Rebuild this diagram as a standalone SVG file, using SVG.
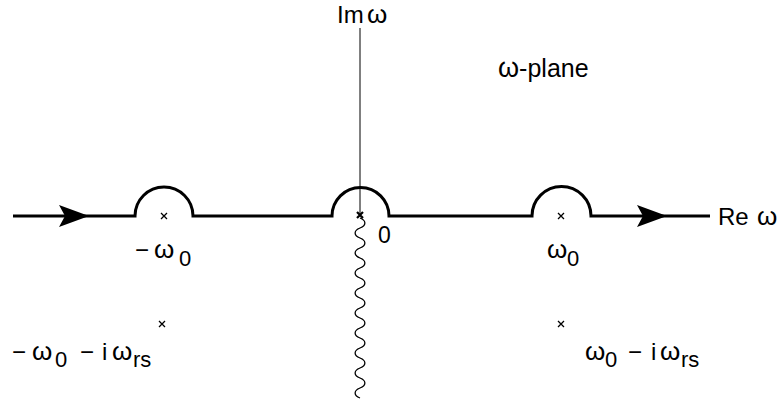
<svg xmlns="http://www.w3.org/2000/svg" width="777" height="403" viewBox="0 0 777 403">
<style>
text{font-family:"Liberation Sans",Arial,sans-serif;font-size:24px;fill:#000}
.w{font-size:26px}
.sub{font-size:22px}
.c{stroke:#000;fill:none;stroke-width:3}
.x{stroke:#000;stroke-width:1.3;fill:none}
.ah{fill:#000;stroke:none}
</style>
<rect width="777" height="403" fill="#fff"/>
<g id="connectors">
<path id="contour" class="c" d="M13,216 H135 A29,29 0 0 1 193,216 H332 A28.5,28.5 0 0 1 389,216 H532 A29.5,29.5 0 0 1 591,216 H710"/>
<path class="ah" d="M89,216 L59,205 L65,216 L59,227 Z"/>
<path class="ah" d="M667,216 L637,205 L643,216 L637,227 Z"/>
<line id="imaxis" x1="360" y1="28" x2="360" y2="214" stroke="#000" stroke-width="1"/>
<path id="cut" fill="none" stroke="#000" stroke-width="1.3" d="M360,218 c6.5,2.5 6.5,7.5 0,10 s-6.5,7.5 0,10 s6.5,7.5 0,10 s-6.5,7.5 0,10 s6.5,7.5 0,10 s-6.5,7.5 0,10 s6.5,7.5 0,10 s-6.5,7.5 0,10 s6.5,7.5 0,10 s-6.5,7.5 0,10 s6.5,7.5 0,10 s-6.5,7.5 0,10 s6.5,7.5 0,10 s-6.5,7.5 0,10 s6.5,7.5 0,10 s-6.5,7.5 0,10 s6.5,7.5 0,10 s-6.5,7.5 0,10"/>
</g>
<g id="pole-origin"><path d="M357,212 L363,218 M363,212 L357,218" stroke="#000" stroke-width="2.2"/></g>
<g id="pole-neg"><path class="x" d="M161,213 L167,219 M167,213 L161,219"/></g>
<g id="pole-pos"><path class="x" d="M558,213 L564,219 M564,213 L558,219"/></g>
<g id="pole-neg-low"><path class="x" d="M159,321 L165,327 M165,321 L159,327"/></g>
<g id="pole-pos-low"><path class="x" d="M558,321 L564,327 M564,321 L558,327"/></g>
<g id="labels">
<text x="337" y="23">Im<tspan x="367" class="w">ω</tspan></text>
<text x="498" y="77" style="font-size:25px"><tspan style="font-size:27px">ω</tspan>-plane</text>
<text x="718" y="225">Re<tspan x="757" class="w">ω</tspan></text>
<text x="378" y="243" style="font-size:23px">0</text>
<text x="135" y="258">−<tspan x="154" class="w">ω</tspan><tspan x="179" y="266" class="sub">0</tspan></text>
<text x="547" y="258" class="w">ω<tspan x="567" y="266" class="sub">0</tspan></text>
<text x="12" y="360">−<tspan x="32" class="w">ω</tspan><tspan x="55" y="367" class="sub">0</tspan><tspan x="80" y="360">−</tspan><tspan x="102">i</tspan><tspan x="112" class="w">ω</tspan><tspan x="133" y="367" class="sub">rs</tspan></text>
<text x="585" y="360" class="w">ω<tspan x="605" y="367" class="sub">0</tspan><tspan x="628" y="360" style="font-size:24px">−</tspan><tspan x="651" style="font-size:24px">i</tspan><tspan x="660">ω</tspan><tspan x="681" y="367" class="sub">rs</tspan></text>
</g>
</svg>
